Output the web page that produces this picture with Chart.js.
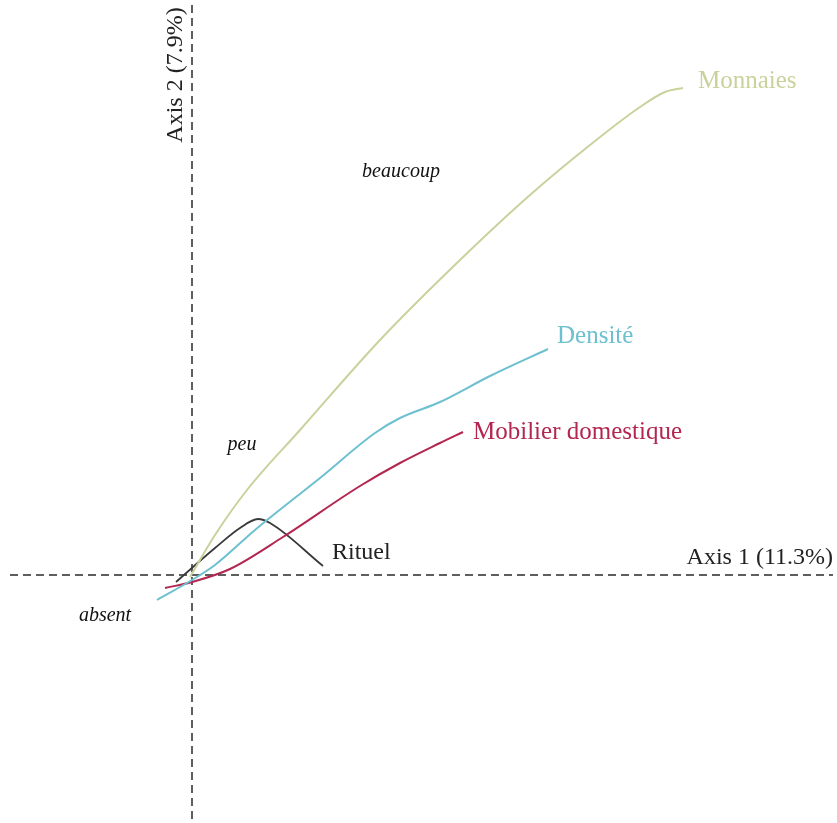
<!DOCTYPE html>
<html>
<head>
<meta charset="utf-8">
<script src="https://cdn.jsdelivr.net/npm/chart.js@4/dist/chart.umd.min.js"></script>
<style>
    html, body { margin: 0; padding: 0; background: #fff; }
    #wrap { width: 837px; height: 823px; position: relative; }
</style>
</head>
<body>
<div id="wrap"><canvas id="caChart"></canvas></div>
<script>
// Trajectoires des variables sur le plan factoriel (axe 1, axe 2)
const monnaiesX = [-0.02, 0.23, 0.55, 1.08, 1.88, 2.68, 3.38, 3.98, 4.48, 4.73, 4.91];
const monnaiesY = [-0.02, 0.40, 0.85, 1.45, 2.35, 3.15, 3.80, 4.30, 4.68, 4.83, 4.87];

const densiteX = [-0.35, 0.00, 0.23, 0.63, 1.28, 1.83, 2.08, 2.48, 2.98, 3.56];
const densiteY = [-0.25, -0.05, 0.10, 0.45, 0.97, 1.42, 1.57, 1.73, 1.99, 2.26];

const mobilierX = [-0.27, 0.00, 0.38, 0.91, 1.68, 2.08, 2.48, 2.71];
const mobilierY = [-0.13, -0.07, 0.06, 0.38, 0.89, 1.12, 1.32, 1.43];

const rituelX = [-0.16, 0.01, 0.23, 0.48, 0.66, 0.78, 1.31];
const rituelY = [-0.07, 0.08, 0.27, 0.47, 0.56, 0.52, 0.09];

const seriesNames = ['Monnaies', 'Densité', 'Mobilier domestique', 'Rituel'];
const modalites = ['beaucoup', 'peu', 'absent'];
const axisTitles = ['Axis 1 (11.3%)', 'Axis 2 (7.9%)'];

const colors = ['#c8d29c', '#6dc0d0', '#b3264f', '#3a3a3a'];
const serif = '"Liberation Serif", "DejaVu Serif", serif';

function toPoints(xs, ys) {
    return xs.map((x, i) => ({ x: x, y: ys[i] }));
}

const lines = [
    toPoints(monnaiesX, monnaiesY),
    toPoints(densiteX, densiteY),
    toPoints(mobilierX, mobilierY),
    toPoints(rituelX, rituelY)
];

// emplacement des étiquettes (unités des axes)
const labels = [
    { text: seriesNames[0], x: 5.06, y: 4.94, color: colors[0], size: 25, align: 'left' },
    { text: seriesNames[1], x: 3.65, y: 2.39, color: colors[1], size: 25, align: 'left' },
    { text: seriesNames[2], x: 2.81, y: 1.43, color: colors[2], size: 25, align: 'left' },
    { text: seriesNames[3], x: 1.40, y: 0.22, color: '#222', size: 24, align: 'left' },
    { text: modalites[0], x: 2.09, y: 4.03, color: '#111', size: 20, align: 'center', italic: true },
    { text: modalites[1], x: 0.50, y: 1.30, color: '#111', size: 20, align: 'center', italic: true },
    { text: modalites[2], x: -0.87, y: -0.41, color: '#111', size: 20, align: 'center', italic: true },
    { text: axisTitles[0], x: 6.41, y: 0.17, color: '#222', size: 24, align: 'right' },
    { text: axisTitles[1], x: -0.16, y: 5.00, color: '#222', size: 24, align: 'center', rotate: true }
];

const axesPlugin = {
    id: 'axesPlugin',
    beforeDatasetsDraw(chart) {
        const ctx = chart.ctx;
        const xs = chart.scales.x, ys = chart.scales.y;
        const x0 = xs.getPixelForValue(0), y0 = ys.getPixelForValue(0);
        ctx.save();
        ctx.strokeStyle = '#2a2a2a';
        ctx.lineWidth = 1.5;
        ctx.setLineDash([8, 5]);
        ctx.beginPath();
        ctx.moveTo(xs.getPixelForValue(-1.82), y0);
        ctx.lineTo(xs.getPixelForValue(6.41), y0);
        ctx.moveTo(x0, ys.getPixelForValue(5.70));
        ctx.lineTo(x0, chart.height);
        ctx.stroke();
        ctx.restore();
    },
    afterDatasetsDraw(chart) {
        const ctx = chart.ctx;
        const xs = chart.scales.x, ys = chart.scales.y;
        ctx.save();
        labels.forEach(l => {
            const px = xs.getPixelForValue(l.x), py = ys.getPixelForValue(l.y);
            ctx.font = (l.italic ? 'italic ' : '') + l.size + 'px ' + serif;
            ctx.fillStyle = l.color;
            ctx.textAlign = l.align;
            ctx.textBaseline = 'middle';
            if (l.rotate) {
                ctx.save();
                ctx.translate(px, py);
                ctx.rotate(-Math.PI / 2);
                ctx.fillText(l.text, 0, 0);
                ctx.restore();
            } else {
                ctx.fillText(l.text, px, py);
            }
        });
        ctx.restore();
    }
};

const ctx = document.getElementById('caChart').getContext('2d');
const chart = new Chart(ctx, {
    type: 'scatter',
    data: {
        datasets: lines.map((pts, i) => ({
            label: seriesNames[i],
            data: pts,
            showLine: true,
            borderColor: colors[i],
            borderWidth: i === 3 ? 1.8 : 2,
            pointRadius: 0,
            cubicInterpolationMode: 'monotone',
            fill: false
        }))
    },
    options: {
        responsive: true,
        maintainAspectRatio: false,
        animation: false,
        layout: { padding: 0 },
        scales: {
            x: { type: 'linear', min: -1.92, max: 6.45, display: false },
            y: { type: 'linear', min: -2.48, max: 5.75, display: false }
        },
        plugins: {
            legend: { display: false },
            tooltip: { enabled: false }
        }
    },
    plugins: [axesPlugin]
});
</script>
</body>
</html>
